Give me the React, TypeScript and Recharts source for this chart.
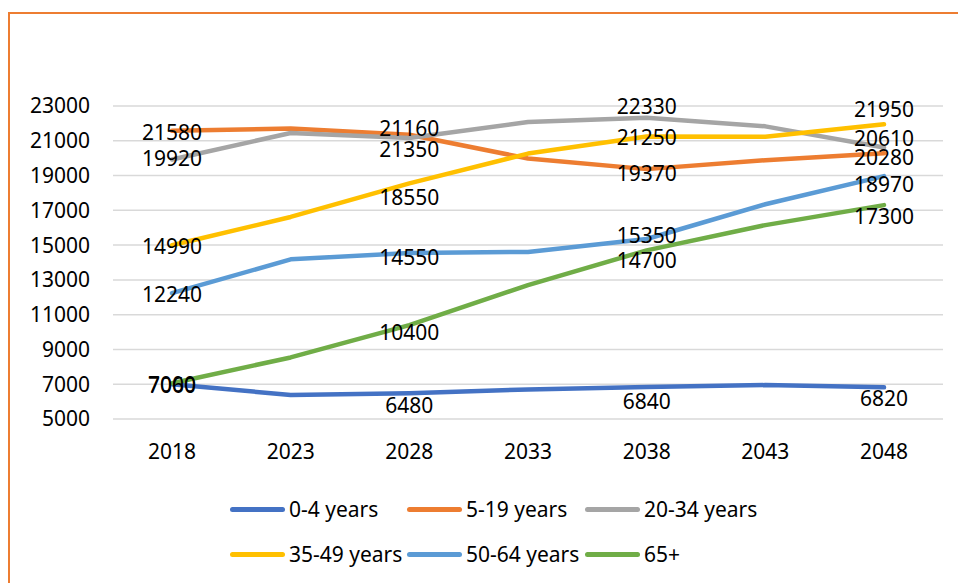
import { LineChart, Line, XAxis, YAxis, CartesianGrid, LabelList } from "recharts"

const years = ["2018", "2023", "2028", "2033", "2038", "2043", "2048"]

const age0to4 = [7000, 6380, 6480, 6700, 6840, 6950, 6820]
const age5to19 = [21580, 21700, 21350, 19980, 19370, 19880, 20280]
const age20to34 = [19920, 21450, 21160, 22080, 22330, 21830, 20610]
const age35to49 = [14990, 16620, 18550, 20265, 21250, 21230, 21950]
const age50to64 = [12240, 14180, 14550, 14610, 15350, 17350, 18970]
const age65plus = [7060, 8540, 10400, 12700, 14700, 16150, 17300]

const yTicks = [5000, 7000, 9000, 11000, 13000, 15000, 17000, 19000, 21000, 23000]

const FONT = "'Noto Sans', sans-serif"

// series styling, label nudges are for the labelled years (every second point)
const series = [
  { key: "a", name: "0-4 years", color: "#4472C4", values: age0to4, nudge: [0, 12, 14, 11] },
  { key: "b", name: "5-19 years", color: "#ED7D31", values: age5to19, nudge: [1, 14, 4, 4] },
  { key: "c", name: "20-34 years", color: "#A5A5A5", values: age20to34, nudge: [-2, -10, -12, -10] },
  { key: "d", name: "35-49 years", color: "#FFC000", values: age35to49, nudge: [1, 14, 1, -15] },
  { key: "e", name: "50-64 years", color: "#5B9BD5", values: age50to64, nudge: [1, 4, -4, 8] },
  { key: "f", name: "65+", color: "#70AD47", values: age65plus, nudge: [2, 7, 10, 11] },
]

const data = years.map((year, i) => {
  const row: Record<string, string | number> = { year }
  series.forEach((s) => {
    row[s.key] = s.values[i]
  })
  return row
})

function makeLabel(nudge: number[]) {
  return (props: any) => {
    const { x, y, value, index } = props
    if (index % 2 !== 0) return null
    return (
      <text
        x={x}
        y={y + nudge[index / 2]}
        textAnchor="middle"
        dominantBaseline="central"
        fontSize={21}
        fontFamily={FONT}
        fill="#000"
      >
        {value}
      </text>
    )
  }
}

function LegendBox() {
  const cols = [230, 407, 585]
  const rows = [509, 554]
  return (
    <>
      {series.map((s, i) => (
        <div
          key={s.key}
          style={{
            position: "absolute",
            left: cols[i % 3],
            top: rows[Math.floor(i / 3)] - 15,
            height: 30,
            display: "flex",
            alignItems: "center",
            fontFamily: FONT,
            fontSize: 21,
            color: "#000",
            whiteSpace: "nowrap",
          }}
        >
          <span
            style={{
              display: "inline-block",
              width: 55,
              height: 5,
              borderRadius: 3,
              background: s.color,
              marginRight: 4,
            }}
          />
          {s.name}
        </div>
      ))}
    </>
  )
}

export default function App() {
  return (
    <div
      style={{
        position: "fixed",
        left: 0,
        top: 0,
        width: 958,
        height: 583,
        overflow: "hidden",
        background: "#fff",
      }}
    >
      <div
        style={{
          position: "absolute",
          left: 8,
          top: 12,
          width: 1000,
          height: 700,
          border: "2px solid #ED7D31",
        }}
      />
      <div style={{ position: "absolute", left: 0, top: 0 }}>
        <LineChart width={958} height={583} data={data} margin={{ top: 106, right: 15, bottom: 124, left: 33 }}>
          <CartesianGrid vertical={false} stroke="#D9D9D9" strokeWidth={1.5} />
          <XAxis
            dataKey="year"
            axisLine={false}
            tickLine={false}
            height={40}
            tickMargin={19}
            padding={{ left: 59, right: 59 }}
            tick={{ fontSize: 21, fontFamily: FONT, fill: "#000" }}
          />
          <YAxis
            domain={[5000, 23000]}
            ticks={yTicks}
            interval={0}
            axisLine={false}
            tickLine={false}
            width={80}
            tickMargin={17}
            tick={{ fontSize: 21, fontFamily: FONT, fill: "#000" }}
          />
          {series.map((s) => (
            <Line
              key={s.key}
              type="linear"
              dataKey={s.key}
              name={s.name}
              stroke={s.color}
              strokeWidth={4.5}
              strokeLinecap="round"
              strokeLinejoin="round"
              dot={false}
              activeDot={false}
              isAnimationActive={false}
            >
              <LabelList dataKey={s.key} content={makeLabel(s.nudge)} />
            </Line>
          ))}
        </LineChart>
      </div>
      <LegendBox />
    </div>
  )
}
